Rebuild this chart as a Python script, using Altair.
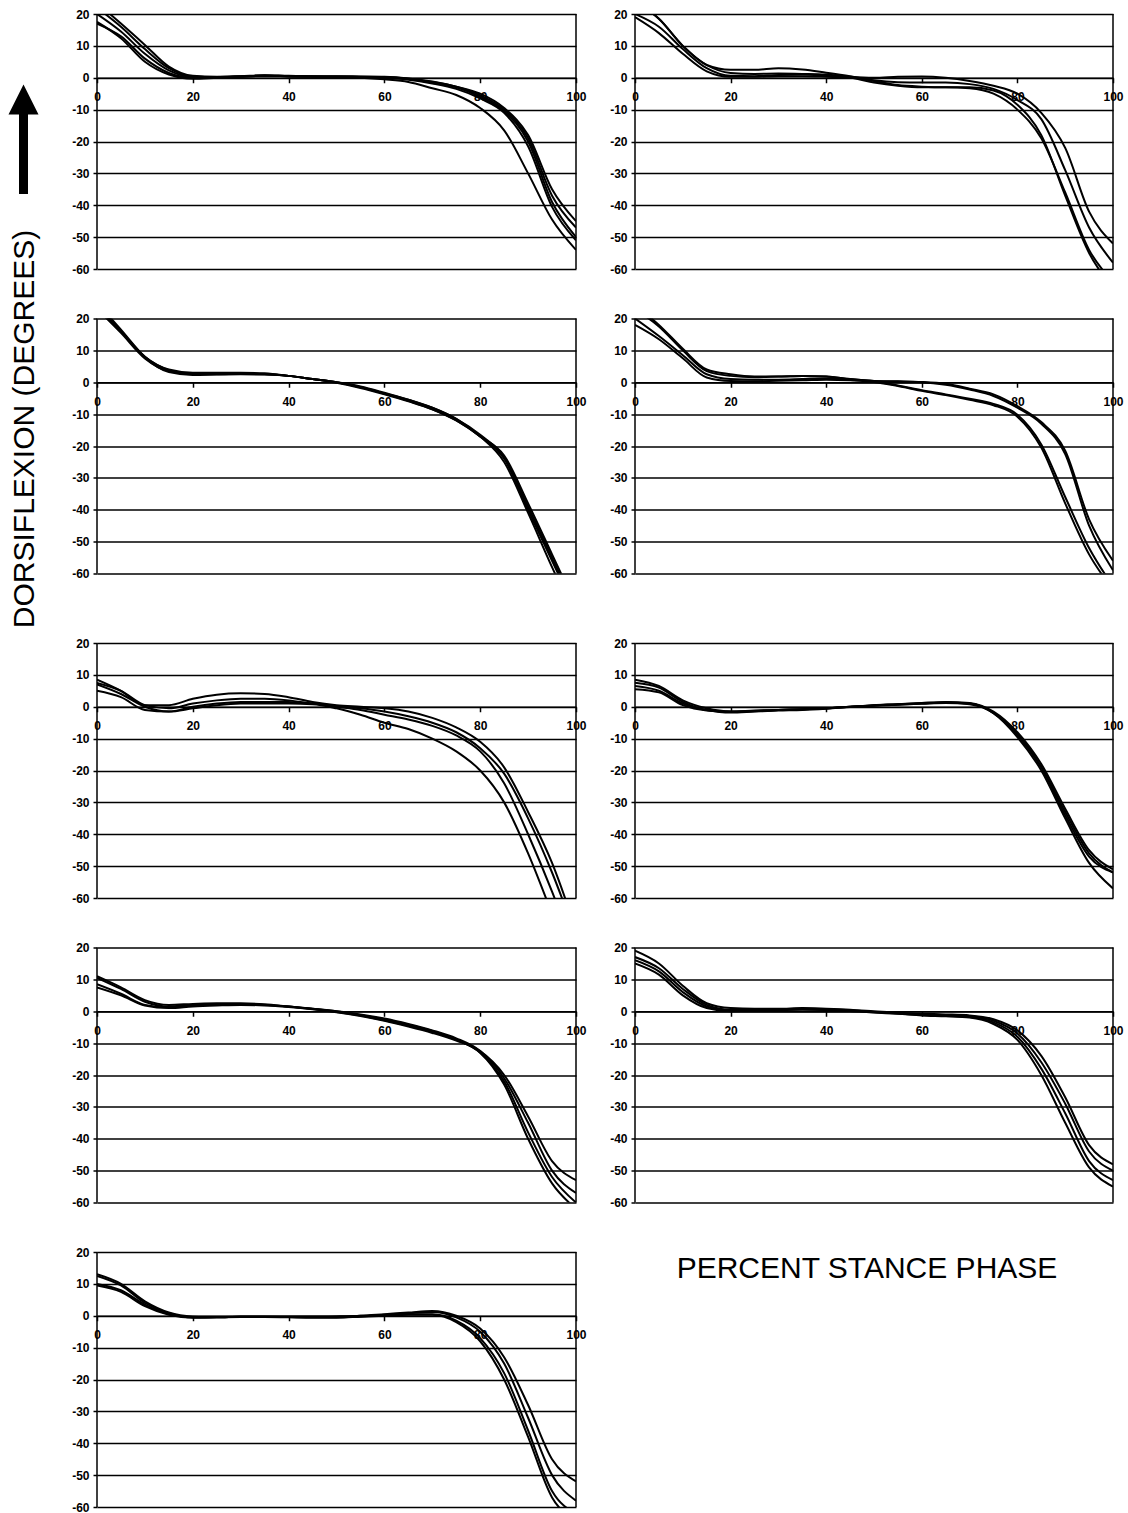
import altair as alt
import pandas as pd

# Percent stance phase sample points
X = list(range(0, 101, 5))

# Panel curves (dorsiflexion, degrees) read at X
P1 = [
    [17.5, 12.4, 5.0, 1.0, -0.3, 0.0, 0.3, 0.5, 0.4, 0.3, 0.2, 0.0, -0.5, -1.3, -3.3, -5.4, -9.5, -16.5, -30, -44.5, -54],
    [17.0, 13.0, 6.0, 1.5, 0.0, 0.2, 0.4, 0.6, 0.5, 0.4, 0.3, 0.2, 0.0, -0.6, -1.8, -3.5, -6.5, -11, -21.5, -40.5, -51],
    [20.0, 14.5, 7.5, 2.3, 0.2, 0.2, 0.4, 0.6, 0.5, 0.4, 0.3, 0.2, 0.0, -0.4, -1.5, -3.0, -6.0, -10.5, -20, -39, -50],
    [22.0, 16.0, 9.0, 3.0, 0.4, 0.2, 0.4, 0.7, 0.5, 0.4, 0.4, 0.3, 0.2, -0.3, -1.3, -2.8, -5.5, -10, -19, -37, -47],
    [23.5, 17.0, 10.3, 3.5, 0.6, 0.3, 0.5, 0.8, 0.6, 0.5, 0.5, 0.4, 0.3, -0.2, -1.2, -2.8, -5.0, -9.5, -18, -35, -45],
]
P2 = [
    [24, 18.5, 10, 4.0, 1.5, 1.2, 1.3, 1.2, 1.0, 0.3, 0.0, 0.3, 0.4, 0.0, -1.0, -2.5, -5.0, -11, -22, -42, -52],
    [24, 18.5, 10, 4.0, 2.5, 2.5, 3.0, 2.6, 1.6, 0.5, -0.8, -1.4, -1.5, -1.5, -2.0, -3.5, -7.0, -13, -29, -47, -58],
    [20, 16, 9, 3.0, 0.6, 0.5, 0.9, 1.0, 0.6, 0.1, -1.0, -2.3, -2.8, -3.0, -3.0, -4.0, -8.5, -18, -37, -55, -66],
    [19, 14, 7.5, 2.0, 0.3, 0.3, 0.5, 0.5, 0.3, 0.0, -1.5, -2.5, -3.0, -3.0, -3.3, -5.0, -10, -19, -36, -54, -64],
]
P3 = [
    [24, 16, 8.0, 4.0, 3.0, 3.0, 3.0, 2.8, 2.0, 1.0, -0.2, -1.8, -3.8, -6.0, -8.5, -12, -17, -23, -38, -54, -70],
    [23, 15.5, 7.5, 3.5, 2.7, 2.7, 2.8, 2.6, 2.0, 1.0, 0.0, -1.5, -3.5, -5.5, -8.0, -11.5, -16.5, -23.5, -39, -55, -71],
    [25, 16.5, 8.0, 3.8, 2.5, 2.5, 2.6, 2.5, 2.0, 1.0, 0.0, -1.6, -3.6, -5.8, -8.5, -12, -17, -24, -40, -56, -72],
    [24, 16, 7.8, 3.2, 2.3, 2.4, 2.5, 2.4, 2.0, 1.0, 0.0, -1.3, -3.3, -5.5, -8.0, -11.5, -17, -25, -41, -58, -74],
]
P4 = [
    [24, 18, 10.5, 4.0, 2.5, 1.8, 1.8, 2.0, 1.8, 1.0, 0.4, 0.3, 0.1, -0.5, -2.0, -3.8, -7.5, -12.5, -21.5, -43, -56],
    [23, 17.5, 10, 3.5, 2.0, 1.6, 1.8, 2.0, 1.8, 1.0, 0.4, 0.2, 0.0, -0.8, -2.3, -4.3, -8.0, -13, -22.5, -45, -59],
    [20, 14.5, 8.5, 2.5, 1.0, 0.8, 0.8, 1.0, 1.2, 0.8, 0.2, -1.0, -2.5, -3.8, -5.2, -6.8, -10.2, -19.5, -36, -52, -64],
    [18, 13.5, 7.5, 1.5, 0.4, 0.3, 0.5, 0.6, 0.8, 0.6, 0.1, -1.2, -2.7, -4.0, -5.5, -7.2, -10.8, -20.5, -38, -54, -65],
]
P5 = [
    [8.5, 5.0, 0.5, 0.5, 2.5, 3.8, 4.2, 4.0, 3.0, 1.5, 0.5, 0.0, -0.5, -1.5, -3.5, -6.5, -11, -19, -33, -49, -70],
    [7.5, 5.0, 0.5, -0.5, 1.0, 2.0, 2.5, 2.5, 2.0, 1.0, 0.2, -0.5, -1.5, -3.0, -5.0, -8.0, -13, -21, -35, -52, -72],
    [7.0, 4.0, 0.0, -1.5, 0.0, 1.0, 1.5, 1.5, 1.5, 1.0, 0.0, -1.0, -2.5, -4.0, -6.0, -9.0, -14, -24, -40, -58, -78],
    [5.0, 3.0, -1.0, -1.5, -0.5, 0.5, 1.0, 1.0, 1.0, 0.8, -0.5, -2.5, -5.0, -7.0, -10, -14, -20, -30, -46, -65, -85],
]
P6 = [
    [8.5, 6.5, 2.0, -0.5, -1.5, -1.3, -1.0, -0.8, -0.5, 0.0, 0.5, 0.8, 1.2, 1.5, 1.2, -1.5, -8.0, -18, -32, -45, -51],
    [7.5, 6.0, 1.5, -1.0, -1.5, -1.2, -1.0, -0.8, -0.5, 0.0, 0.4, 0.8, 1.0, 1.2, 1.0, -2.0, -9.0, -19, -33, -46, -52],
    [6.5, 5.0, 1.0, -1.0, -1.8, -1.5, -1.2, -1.0, -0.6, -0.1, 0.3, 0.6, 1.0, 1.3, 0.8, -2.0, -9.5, -20, -35, -49, -57],
    [5.5, 4.5, 0.5, -1.2, -1.6, -1.4, -1.0, -0.8, -0.5, 0.0, 0.5, 0.7, 1.0, 1.3, 1.0, -1.8, -8.5, -19, -34, -47, -52],
]
P7 = [
    [11, 7.5, 3.5, 2.0, 2.3, 2.5, 2.5, 2.2, 1.5, 0.8, 0.0, -1.0, -2.3, -4.0, -6.0, -8.5, -12.5, -21, -35, -50, -57],
    [10.5, 7.0, 3.0, 1.5, 2.0, 2.2, 2.3, 2.0, 1.5, 0.8, 0.0, -1.2, -2.5, -4.2, -6.2, -8.8, -13, -22, -38, -52, -60],
    [8.5, 5.5, 2.0, 1.2, 1.8, 2.0, 2.2, 2.0, 1.5, 0.7, -0.2, -1.3, -2.8, -4.5, -6.5, -9.0, -13, -23, -40, -54, -62],
    [7.5, 5.0, 1.8, 1.0, 1.5, 1.8, 2.0, 1.8, 1.3, 0.6, -0.3, -1.5, -3.0, -4.8, -6.8, -9.2, -12.5, -20, -33, -47, -53],
]
P8 = [
    [19, 15, 8.0, 2.5, 1.0, 0.8, 0.8, 1.0, 0.8, 0.5, 0.0, -0.5, -0.8, -1.0, -1.3, -2.5, -6.0, -14, -27, -42, -48],
    [17, 13.5, 7.0, 2.0, 0.5, 0.5, 0.6, 0.8, 0.6, 0.3, -0.2, -0.6, -1.0, -1.2, -1.5, -3.0, -7.0, -16, -29, -44, -50],
    [16, 12.5, 6.0, 1.5, 0.3, 0.3, 0.5, 0.6, 0.5, 0.2, -0.3, -0.7, -1.2, -1.5, -1.8, -3.5, -8.0, -18, -32, -47, -53],
    [15, 11.5, 5.0, 1.0, 0.0, 0.2, 0.4, 0.5, 0.4, 0.1, -0.4, -0.8, -1.3, -1.6, -2.0, -4.0, -9.0, -20, -35, -49, -55],
]
P9 = [
    [13, 10, 4.5, 1.0, -0.3, -0.5, -0.3, -0.3, -0.3, -0.3, -0.2, 0.0, 0.5, 1.0, 1.5, 0.0, -4.0, -13, -28, -45, -52],
    [12.5, 9.5, 4.0, 0.8, -0.5, -0.5, -0.3, -0.3, -0.3, -0.3, -0.3, 0.0, 0.3, 0.8, 1.2, -0.5, -5.0, -15, -32, -50, -58],
    [10, 8.0, 3.5, 0.5, -0.5, -0.4, -0.3, -0.3, -0.4, -0.5, -0.5, -0.2, 0.2, 0.5, 0.5, -1.5, -7.0, -18, -36, -55, -62],
    [9.5, 7.5, 3.0, 0.3, -0.6, -0.5, -0.4, -0.4, -0.5, -0.6, -0.6, -0.3, 0.0, 0.3, 0.3, -2.0, -8.0, -20, -38, -57, -64],
]

X_TICKS = [0, 20, 40, 60, 80, 100]
Y_TICKS = [-60, -50, -40, -30, -20, -10, 0, 10, 20]
Y_MIN, Y_MAX = -60, 20
Y_TITLE = "DORSIFLEXION (DEGREES)"
X_TITLE = "PERCENT STANCE PHASE"

FONT = "Liberation Sans"
H = 255
W_LEFT = 479
W_RIGHT = 478
PX_PER_UNIT = H / (Y_MAX - Y_MIN)
ZERO_OFFSET = -(H * 6 / 8)

X_AXIS = alt.Axis(values=X_TICKS, orient="bottom", offset=ZERO_OFFSET,
                  grid=False, title=None, labelFlush=False,
                  labelOverlap=False, tickSize=5, labelPadding=9,
                  labelExpr="'' + datum.value")
Y_AXIS = alt.Axis(values=Y_TICKS, grid=True, title=None, domain=False,
                  tickSize=4, labelPadding=4, labelOverlap=False,
                  labelFlush=False, labelExpr="'' + datum.value")


def panel(curves, width, extras=(), extra_top=0):
    rows = []
    for ci, c in enumerate(curves):
        for x, y in zip(X, c):
            rows.append({"x": x, "y": y, "c": ci})
    df = pd.DataFrame(rows)
    top = Y_MAX + extra_top / PX_PER_UNIT
    xs = alt.Scale(domain=[0, 100], nice=False)
    ys = alt.Scale(domain=[Y_MIN, top], nice=False)
    lines = alt.Chart(df).mark_line(
        color="black", strokeWidth=2, clip=True, interpolate="monotone"
    ).encode(
        x=alt.X("x:Q", scale=xs, axis=X_AXIS),
        y=alt.Y("y:Q", scale=ys, axis=Y_AXIS),
        detail="c:N",
    )
    frame_df = pd.DataFrame({"x": [0, 100], "y": [Y_MIN, Y_MIN], "y2": [Y_MAX, Y_MAX]})
    frame = alt.Chart(frame_df).mark_rule(color="black", strokeWidth=1.5).encode(
        x=alt.X("x:Q", scale=xs, axis=X_AXIS),
        y=alt.Y("y:Q", scale=ys, axis=Y_AXIS),
        y2="y2:Q",
    )
    layers = [lines, frame] + list(extras)
    return alt.layer(*layers).properties(width=width, height=H + extra_top)


one = pd.DataFrame({"t": [Y_TITLE], "u": [X_TITLE]})

y_label = alt.Chart(one).mark_text(
    angle=270, fontSize=30, font=FONT, color="black", align="center", baseline="middle"
).encode(text="t:N", x=alt.value(-72.5), y=alt.value(415))

arrow_shaft = alt.Chart(one).mark_rule(color="black", strokeWidth=9).encode(
    x=alt.value(-73.5), y=alt.value(99), y2=alt.value(180)
)
arrow_head = alt.Chart(one).mark_point(
    shape="M-1,1L0,-1L1,1Z", filled=True, color="black", opacity=1, size=900
).encode(x=alt.value(-73.5), y=alt.value(85.5))

x_label = alt.Chart(one).mark_text(
    fontSize=30, font=FONT, color="black", align="center", baseline="middle"
).encode(text="u:N", x=alt.value(770), y=alt.value(17))

EXTRA = 20
p1 = panel(P1, W_LEFT, [y_label, arrow_shaft, arrow_head])
p2 = panel(P2, W_RIGHT)
p3 = panel(P3, W_LEFT)
p4 = panel(P4, W_RIGHT)
p5 = panel(P5, W_LEFT, extra_top=EXTRA)
p6 = panel(P6, W_RIGHT, extra_top=EXTRA)
p7 = panel(P7, W_LEFT)
p8 = panel(P8, W_RIGHT)
p9 = panel(P9, W_LEFT, [x_label])

chart = alt.concat(
    p1, p2, p3, p4, p5, p6, p7, p8, p9,
    columns=2, spacing={"row": 49.5, "column": 59}, bounds="flush", align="each",
).properties(
    padding={"left": 8, "top": 8, "right": 0, "bottom": 0}
).configure_view(
    stroke=None
).configure_axis(
    domainColor="black", domainWidth=1.5, tickColor="black", tickWidth=1.5,
    gridColor="black", gridWidth=1.5, gridOpacity=1,
    labelFont=FONT, labelFontSize=12, labelFontWeight="bold", labelColor="black",
)

chart.save("out.html", embed_options={"renderer": "svg", "actions": False})
